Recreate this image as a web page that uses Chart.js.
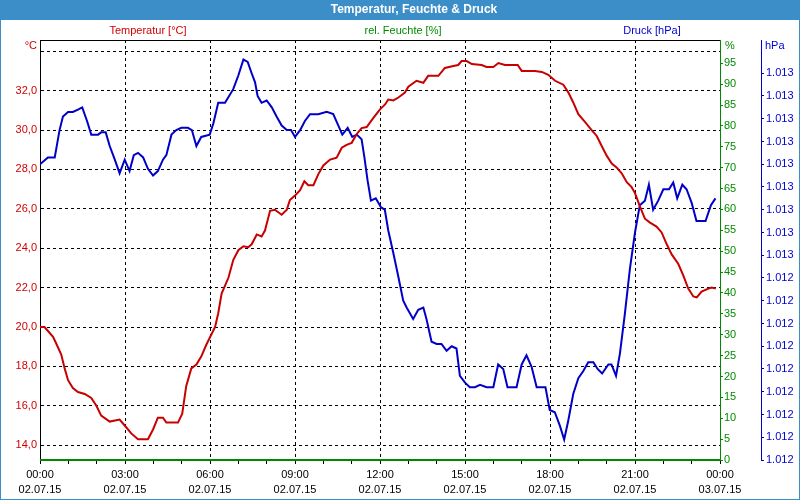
<!DOCTYPE html>
<html>
<head>
<meta charset="utf-8">
<script src="https://cdn.jsdelivr.net/npm/chart.js@4.4.1/dist/chart.umd.min.js"></script>
<style>html,body{margin:0;padding:0;background:#fff}canvas{display:block}</style>
</head>
<body>
<canvas id="c" width="800" height="500"></canvas>
<script>
// ---------- data (hours since 02.07.15 00:00) ----------
const tempTimes = [0.0,0.16,0.25,0.46,0.56,0.75,0.87,0.99,1.16,1.34,1.58,1.81,1.99,2.16,2.46,2.81,2.99,3.22,3.46,3.81,3.99,4.16,4.34,4.46,4.87,5.02,5.16,5.34,5.52,5.69,5.87,6.18,6.29,6.41,6.53,6.65,6.82,7.0,7.18,7.35,7.47,7.65,7.82,7.94,8.12,8.29,8.53,8.71,8.82,9.0,9.18,9.33,9.47,9.65,9.82,10.0,10.24,10.47,10.65,10.82,11.0,11.18,11.35,11.53,11.76,12.0,12.18,12.29,12.47,12.65,12.88,13.0,13.29,13.53,13.7,14.06,14.29,14.59,14.76,14.88,15.06,15.24,15.59,15.76,16.0,16.18,16.41,16.65,16.86,17.0,17.18,17.47,17.71,17.94,18.18,18.47,18.65,18.82,19.0,19.24,19.47,19.65,19.82,20.0,20.18,20.35,20.53,20.71,20.88,21.0,21.18,21.35,21.53,21.76,21.94,22.12,22.29,22.53,22.71,22.88,23.06,23.18,23.35,23.59,23.71,23.85];
const tempValues = [20.0,20.0,19.85,19.5,19.2,18.6,17.9,17.3,16.9,16.7,16.6,16.4,16.0,15.5,15.2,15.3,15.0,14.6,14.3,14.3,14.8,15.4,15.4,15.15,15.15,15.6,17.0,17.9,18.1,18.5,19.1,20.0,20.7,21.7,22.1,22.5,23.4,23.9,24.1,24.05,24.2,24.7,24.6,24.9,25.9,25.95,25.7,25.95,26.45,26.67,26.95,27.4,27.2,27.2,27.75,28.2,28.5,28.6,29.1,29.25,29.35,29.8,30.1,30.15,30.6,31.05,31.3,31.55,31.5,31.65,31.9,32.2,32.5,32.4,32.75,32.75,33.15,33.25,33.3,33.5,33.5,33.35,33.3,33.2,33.2,33.4,33.3,33.3,33.3,33.0,33.0,33.0,32.95,32.8,32.5,32.3,31.9,31.4,30.8,30.4,30.0,29.7,29.2,28.7,28.3,28.1,27.8,27.35,27.1,26.8,26.1,25.5,25.3,25.1,24.8,24.2,23.7,23.2,22.6,21.95,21.55,21.5,21.8,21.95,22.0,21.95];

const humTimes = [0, 24];
const humValues = [0, 0];

const presTimes = [0.0,0.28,0.52,0.69,0.81,0.99,1.16,1.34,1.49,1.66,1.81,2.05,2.16,2.32,2.46,2.64,2.81,2.99,3.16,3.31,3.46,3.64,3.81,3.99,4.16,4.34,4.46,4.64,4.81,4.99,5.22,5.36,5.52,5.69,5.99,6.12,6.29,6.53,6.82,7.0,7.18,7.33,7.47,7.59,7.68,7.82,8.0,8.18,8.35,8.53,8.71,8.86,9.0,9.18,9.35,9.53,9.82,10.12,10.35,10.53,10.67,10.86,11.02,11.18,11.35,11.45,11.56,11.68,11.85,12.04,12.17,12.29,12.47,12.64,12.82,12.94,13.17,13.35,13.53,13.64,13.82,14.0,14.17,14.35,14.53,14.7,14.82,15.0,15.17,15.35,15.53,15.76,16.0,16.17,16.35,16.5,16.82,17.0,17.17,17.35,17.53,17.84,17.99,18.17,18.35,18.5,18.64,18.82,19.0,19.17,19.35,19.53,19.68,19.84,20.06,20.17,20.33,20.47,20.64,20.82,21.0,21.17,21.35,21.49,21.64,21.82,22.0,22.2,22.35,22.49,22.67,22.82,23.0,23.17,23.49,23.68,23.84];
const presValues = [1012.90,1012.93,1012.93,1013.05,1013.11,1013.13,1013.13,1013.14,1013.15,1013.09,1013.03,1013.03,1013.04,1013.04,1012.98,1012.92,1012.86,1012.92,1012.87,1012.94,1012.95,1012.93,1012.88,1012.85,1012.87,1012.92,1012.94,1013.03,1013.05,1013.06,1013.06,1013.05,1012.98,1013.02,1013.03,1013.08,1013.17,1013.17,1013.23,1013.29,1013.36,1013.35,1013.30,1013.26,1013.20,1013.17,1013.18,1013.15,1013.11,1013.07,1013.05,1013.05,1013.02,1013.05,1013.09,1013.12,1013.12,1013.13,1013.12,1013.07,1013.03,1013.06,1013.02,1013.03,1013.01,1012.93,1012.83,1012.74,1012.75,1012.71,1012.70,1012.61,1012.51,1012.41,1012.30,1012.27,1012.22,1012.26,1012.27,1012.22,1012.12,1012.11,1012.11,1012.08,1012.10,1012.09,1011.97,1011.94,1011.92,1011.92,1011.93,1011.92,1011.92,1012.02,1012.00,1011.92,1011.92,1012.02,1012.06,1012.01,1011.92,1011.92,1011.82,1011.81,1011.75,1011.69,1011.77,1011.89,1011.96,1011.99,1012.03,1012.03,1012.00,1011.98,1012.02,1012.02,1011.97,1012.07,1012.24,1012.44,1012.60,1012.72,1012.74,1012.81,1012.70,1012.74,1012.79,1012.79,1012.82,1012.75,1012.81,1012.79,1012.73,1012.65,1012.65,1012.72,1012.75];

// ---------- ticks & labels ----------
const xTicks = [0,1,2,3,4,5,6,7,8,9,10,11,12,13,14,15,16,17,18,19,20,21,22,23,24];
const xLabelHours = [0,3,6,9,12,15,18,21,24];
const xLabelTimes = ['00:00','03:00','06:00','09:00','12:00','15:00','18:00','21:00','00:00'];
const xLabelDates = ['02.07.15','02.07.15','02.07.15','02.07.15','02.07.15','02.07.15','02.07.15','02.07.15','03.07.15'];

const tempTicks = [14,16,18,20,22,24,26,28,30,32,34];
const tempTickLabels = ['14,0','16,0','18,0','20,0','22,0','24,0','26,0','28,0','30,0','32,0',''];

const humTicks = [0,5,10,15,20,25,30,35,40,45,50,55,60,65,70,75,80,85,90,95];
const humTickLabels = ['0','5','10','15','20','25','30','35','40','45','50','55','60','65','70','75','80','85','90','95'];

const presTicks = [1011.6,1011.7,1011.8,1011.9,1012.0,1012.1,1012.2,1012.3,1012.4,1012.5,1012.6,1012.7,1012.8,1012.9,1013.0,1013.1,1013.2,1013.3];
const presTickLabels = ['1.012','1.012','1.012','1.012','1.012','1.012','1.012','1.012','1.012','1.013','1.013','1.013','1.013','1.013','1.013','1.013','1.013','1.013'];

const chartTitle = 'Temperatur, Feuchte & Druck';
const seriesNames = ['Temperatur [°C]', 'rel. Feuchte [%]', 'Druck [hPa]'];
const unitNames = ['°C', '%', 'hPa'];

// ---------- styles ----------
const FONT = '"Liberation Sans", Arial, sans-serif';
const headerColor = '#3b8ec7';
const tempColor = '#c80000';
const tempText = '#d00000';
const humColor = '#008a00';
const presColor = '#0000c8';
const presText = '#0000d0';

const pts = (xs, ys) => xs.map((t, i) => ({x: t, y: ys[i]}));

const decor = {
  id: 'decor',
  beforeDraw(chart) {
    const {ctx} = chart;
    ctx.save();
    ctx.fillStyle = '#ffffff';
    ctx.fillRect(0, 0, chart.width, chart.height);
    ctx.fillStyle = headerColor;
    ctx.fillRect(0, 0, chart.width, 20);
    ctx.restore();
  },
  afterDraw(chart) {
    const {ctx, chartArea: a} = chart;
    ctx.save();
    ctx.strokeStyle = '#000';
    ctx.lineWidth = 1;
    ctx.beginPath();
    ctx.moveTo(a.left, a.top + 0.5);
    ctx.lineTo(a.right, a.top + 0.5);
    ctx.stroke();
    ctx.strokeStyle = headerColor;
    ctx.strokeRect(0.5, 0.5, chart.width - 1, chart.height - 1);

    ctx.textBaseline = 'middle';
    ctx.textAlign = 'center';
    ctx.font = 'bold 12px ' + FONT;
    ctx.fillStyle = '#ffffff';
    ctx.fillText(chartTitle, 414, 10);

    ctx.font = '11px ' + FONT;
    ctx.fillStyle = tempText; ctx.fillText(seriesNames[0], 148, 31);
    ctx.fillStyle = humColor; ctx.fillText(seriesNames[1], 403, 31);
    ctx.fillStyle = presText; ctx.fillText(seriesNames[2], 652, 31);

    ctx.textAlign = 'right';
    ctx.fillStyle = tempText; ctx.fillText(unitNames[0], a.left - 3, 46);
    ctx.textAlign = 'left';
    ctx.fillStyle = humColor; ctx.fillText(unitNames[1], a.right + 5, 46);
    ctx.fillStyle = presText; ctx.fillText(unitNames[2], 765, 46);
    ctx.restore();
  }
};

new Chart(document.getElementById('c'), {
  type: 'line',
  data: {
    datasets: [
      {label: seriesNames[0], data: pts(tempTimes, tempValues), yAxisID: 'yT', borderColor: tempColor, borderWidth: 2, pointRadius: 0, tension: 0, fill: false},
      {label: seriesNames[1], data: pts(humTimes, humValues), yAxisID: 'yH', borderColor: humColor, borderWidth: 2, pointRadius: 0, tension: 0, fill: false, clip: 2},
      {label: seriesNames[2], data: pts(presTimes, presValues), yAxisID: 'yP', borderColor: presColor, borderWidth: 2, pointRadius: 0, tension: 0, fill: false}
    ]
  },
  options: {
    responsive: false,
    animation: false,
    devicePixelRatio: 1,
    layout: {padding: {top: 40, left: 0, right: 0, bottom: 0}},
    plugins: {legend: {display: false}, title: {display: false}, tooltip: {enabled: false}},
    scales: {
      x: {
        type: 'linear', position: 'bottom', min: 0, max: 24,
        afterBuildTicks: s => { s.ticks = xTicks.map(v => ({value: v})); },
        afterFit: s => { s.height = 40; },
        grid: {
          color: c => (c.tick && xLabelHours.includes(c.tick.value) && c.tick.value > 0 && c.tick.value < 24) ? '#000' : 'rgba(0,0,0,0)',
          tickColor: '#000', tickLength: 4, lineWidth: 1
        },
        border: {color: '#000', dash: [3, 3]},
        ticks: {
          autoSkip: false, maxRotation: 0, minRotation: 0, padding: 3, color: '#000',
          font: {family: FONT, size: 11, lineHeight: 1.4},
          callback: v => { const i = xLabelHours.indexOf(v); return i < 0 ? '' : [xLabelTimes[i], xLabelDates[i]]; }
        }
      },
      yT: {
        type: 'linear', position: 'left', min: 13.25, max: 34.57,
        afterBuildTicks: s => { s.ticks = tempTicks.map(v => ({value: v})); },
        afterFit: s => { s.width = 40; },
        grid: {color: '#000', drawTicks: false, lineWidth: 1},
        border: {color: '#000', dash: [3, 3]},
        ticks: {color: tempText, padding: 3, font: {family: FONT, size: 11}, callback: (v, i) => tempTickLabels[i]}
      },
      yH: {
        type: 'linear', position: 'right', weight: 0, min: 0, max: 100.57,
        afterBuildTicks: s => { s.ticks = humTicks.map(v => ({value: v})); },
        afterFit: s => { s.width = 41; },
        grid: {drawOnChartArea: false, color: humColor, tickColor: humColor, tickLength: 3},
        border: {color: humColor, width: 1},
        ticks: {color: humColor, padding: 1, font: {family: FONT, size: 11}, callback: (v, i) => humTickLabels[i]}
      },
      yP: {
        type: 'linear', position: 'right', weight: 1, min: 1011.6, max: 1013.446,
        afterBuildTicks: s => { s.ticks = presTicks.map(v => ({value: v})); },
        afterFit: s => { s.width = 39; },
        grid: {drawOnChartArea: false, color: presColor, tickColor: presColor, tickLength: 3},
        border: {color: presColor, width: 1},
        ticks: {color: presText, padding: 2, font: {family: FONT, size: 11}, callback: (v, i) => presTickLabels[i]}
      }
    }
  },
  plugins: [decor]
});
</script>
</body>
</html>
